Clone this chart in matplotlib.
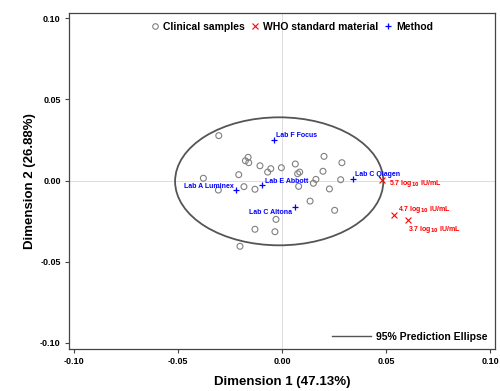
import numpy as np
import matplotlib
matplotlib.use('Agg')
from matplotlib import pyplot as plt
from matplotlib.patches import Ellipse
from matplotlib.lines import Line2D

# clinical samples (dimension 1, dimension 2)
clin_x = [-0.0304, -0.0163, -0.0176, -0.0160, -0.0106, -0.0054, -0.0069, -0.0003,
          0.0064, 0.0085, 0.0075, 0.0202, 0.0288, 0.0197, 0.0163, 0.0151, 0.0282,
          0.0228, 0.0080, 0.0135, 0.0253, -0.0208, -0.0378, -0.0306, -0.0183,
          -0.0130, -0.0029, -0.0130, -0.0034, -0.0202]
clin_y = [0.0277, 0.0143, 0.0122, 0.0110, 0.0091, 0.0073, 0.0052, 0.0079,
          0.0102, 0.0052, 0.0042, 0.0149, 0.0110, 0.0057, 0.0007, -0.0017, 0.0005,
          -0.0052, -0.0036, -0.0127, -0.0184, 0.0036, 0.0014, -0.0059, -0.0038,
          -0.0054, -0.0240, -0.0301, -0.0316, -0.0406]

# WHO standard material
who_labels = ['5.7 log$_{10}$ IU/mL', '4.7 log$_{10}$ IU/mL', '3.7 log$_{10}$ IU/mL']
who_x = [0.0482, 0.0540, 0.0604]
who_y = [0.0001, -0.0211, -0.0244]

# methods
method_labels = ['Lab F Focus', 'Lab E Abbott', 'Lab A Luminex', 'Lab C Altona', 'Lab C Qiagen']
method_x = [-0.0040, -0.0096, -0.0221, 0.0063, 0.0340]
method_y = [0.0250, -0.0030, -0.0061, -0.0166, 0.0011]

# 95% prediction ellipse: centre, width, height
ell_center = (-0.00135, -0.0005)
ell_w, ell_h = 0.1001, 0.0790

# label offsets in points and alignment
method_off = [(2, 3, 'left'), (2, 3, 'left'), (-2, 3, 'right'), (-2, -3.5, 'right'), (1.5, 3.2, 'left')]
who_off = [(5, -2.5, 'left'), (3, 3.4, 'left'), (0, -6.5, 'left')]

plt.rcParams['font.family'] = ['Liberation Sans', 'DejaVu Sans']
plt.rcParams['font.weight'] = 'bold'
plt.rcParams['mathtext.default'] = 'bf'

fig = plt.figure(figsize=(5, 3.91), dpi=100)
ax = fig.add_axes([0.138, 0.1074, 0.852, 0.8594])

ax.axhline(0, color='#dddddd', lw=0.7, zorder=0)
ax.axvline(0, color='#dddddd', lw=0.7, zorder=0)

ax.scatter(clin_x, clin_y, s=18, facecolors='none', edgecolors='#808080', linewidths=0.8, zorder=3)
ax.scatter(who_x, who_y, s=18, marker='x', color='red', linewidths=0.8, zorder=3)
ax.scatter(method_x, method_y, s=22, marker='+', color='blue', linewidths=0.9, zorder=3)

for lab, x, y, (dx, dy, ha) in zip(method_labels, method_x, method_y, method_off):
    ax.annotate(lab, (x, y), xytext=(dx, dy), textcoords='offset points',
                ha=ha, va='center', fontsize=5, color='blue', fontweight='bold')
for lab, x, y, (dx, dy, ha) in zip(who_labels, who_x, who_y, who_off):
    ax.annotate(lab, (x, y), xytext=(dx, dy), textcoords='offset points',
                ha=ha, va='center', fontsize=5, color='red', fontweight='bold')

ax.add_patch(Ellipse(ell_center, ell_w, ell_h, fill=False, edgecolor='#555555', lw=1.3, zorder=2))

ax.set_xlim(-0.1024, 0.1024)
ax.set_ylim(-0.104, 0.1034)
ticks = [-0.10, -0.05, 0.00, 0.05, 0.10]
ax.set_xticks(ticks)
ax.set_yticks(ticks)
ax.set_xticklabels(['%.2f' % t for t in ticks])
ax.set_yticklabels(['%.2f' % t for t in ticks])
ax.tick_params(labelsize=6.5, length=3, width=0.8, color='#444444', pad=3)
for sp in ax.spines.values():
    sp.set_color('#444444')
    sp.set_linewidth(0.9)

ax.set_xlabel('Dimension 1 (47.13%)', fontsize=9.5, fontweight='bold', labelpad=7)
ax.set_ylabel('Dimension 2 (26.88%)', fontsize=9.5, fontweight='bold', labelpad=3)

h1 = [Line2D([], [], ls='none', marker='o', mfc='none', mec='#808080', ms=4, mew=0.8),
      Line2D([], [], ls='none', marker='x', color='red', ms=4.5, mew=0.8),
      Line2D([], [], ls='none', marker='+', color='blue', ms=5, mew=0.9)]
leg1 = ax.legend(h1, ['Clinical samples', 'WHO standard material', 'Method'], loc='upper center',
                 bbox_to_anchor=(0.523, 1), ncol=3, frameon=False, fontsize=7.5,
                 handletextpad=0.35, columnspacing=0.6, handlelength=0.8, borderaxespad=0.45)
ax.add_artist(leg1)
h2 = [Line2D([], [], color='#555555', lw=1)]
ax.legend(h2, ['95% Prediction Ellipse'], loc='lower right', frameon=False, fontsize=7.5,
          handlelength=3.75, handletextpad=0.5, borderaxespad=0.3)

fig.savefig('out.png', dpi=100)
